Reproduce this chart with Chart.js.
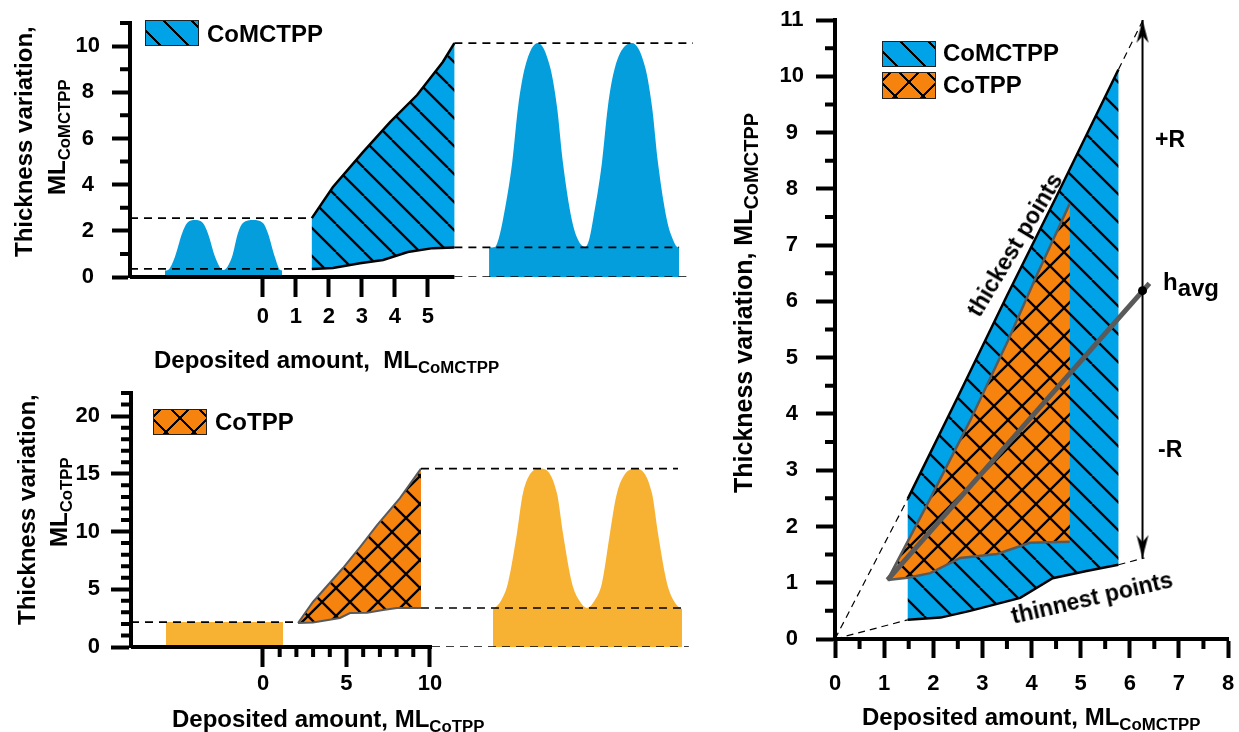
<!DOCTYPE html>
<html>
<head>
<meta charset="utf-8">
<title>Thickness variation vs deposited amount</title>
<script src="https://cdn.jsdelivr.net/npm/chart.js@4.4.1/dist/chart.umd.min.js"></script>
<style>
  body { margin: 0; background: #fff; }
  #fig { position: relative; width: 1239px; height: 732px; overflow: hidden; background: #fff;
         font-family: "Liberation Sans", Arial, sans-serif; font-weight: bold; color: #000; }
  #fig canvas { position: absolute; left: 0; top: 0; }
  .t { position: absolute; white-space: pre; line-height: 1; font-size: 24px; }
  .t sub { font-size: 0.7em; vertical-align: -0.32em; line-height: 0; }
  .up { transform-origin: 0 0; transform: rotate(-90deg); }
  .key { position: absolute; box-sizing: border-box; width: 54px; height: 26px; border: 1.5px solid #222; }
  .diag { background-color: #00a2e8;
          background-image: repeating-linear-gradient(45deg, transparent 0 8.9px, #000 8.9px 10.9px, transparent 10.9px 19.8px); }
  .xx { background-color: #f7830f;
        background-image: repeating-linear-gradient(45deg, transparent 0 8.9px, #000 8.9px 10.9px, transparent 10.9px 19.8px),
                          repeating-linear-gradient(-45deg, transparent 0 8.9px, #000 8.9px 10.9px, transparent 10.9px 19.8px); }
</style>
</head>
<body>
<div id="fig">
  <canvas id="cA" width="1239" height="732"></canvas>
  <canvas id="cB" width="1239" height="732"></canvas>
  <canvas id="cC" width="1239" height="732"></canvas>

  <!-- top-left panel -->
  <div class="t up" style="left:11.7px; top:257px;">Thickness variation,</div>
  <div class="t up" style="left:44.7px; top:195px;">ML<sub>CoMCTPP</sub></div>
  <div class="t" style="left:154px; top:347.7px;">Deposited amount,  ML<sub>CoMCTPP</sub></div>
  <div class="key diag" style="left:145px; top:20px;"></div>
  <div class="t" style="left:207px; top:21.7px;">CoMCTPP</div>

  <!-- bottom-left panel -->
  <div class="t up" style="left:14.7px; top:625px;">Thickness variation,</div>
  <div class="t up" style="left:46.7px; top:547px;">ML<sub>CoTPP</sub></div>
  <div class="t" style="left:172px; top:706.7px;">Deposited amount, ML<sub>CoTPP</sub></div>
  <div class="key xx" style="left:153px; top:409px;"></div>
  <div class="t" style="left:215px; top:409.7px;">CoTPP</div>

  <!-- right panel -->
  <div class="t up" style="left:730.8px; top:493px; font-size:25px;">Thickness variation, ML<sub style="font-size:0.8em;">CoMCTPP</sub></div>
  <div class="t" style="left:862px; top:704.7px;">Deposited amount, ML<sub>CoMCTPP</sub></div>
  <div class="key diag" style="left:882px; top:41px;"></div>
  <div class="t" style="left:943px; top:41.4px;">CoMCTPP</div>
  <div class="key xx" style="left:882px; top:72px; height:27px;"></div>
  <div class="t" style="left:943px; top:73px;">CoTPP</div>
  <div class="t" style="left:1155px; top:127.5px; font-size:23px;">+R</div>
  <div class="t" style="left:1158px; top:437.5px; font-size:23px;">-R</div>
  <div class="t" style="left:1163px; top:269.7px;">h<span style="position:relative; top:6px;">avg</span></div>
  <div class="t" style="left:1015px; top:245px; font-size:23px; transform:translate(-50%,-50%) rotate(-59deg);">thickest points</div>
  <div class="t" style="left:1092px; top:598px; font-size:23px; transform:translate(-50%,-50%) rotate(-13deg);">thinnest points</div>
</div>

<script>
// ---------- top-left panel: CoMCTPP ----------
const aXTicks = [0, 1, 2, 3, 4, 5];
const aYTicks = [0, 2, 4, 6, 8, 10];
const aYMinor = [1, 3, 5, 7, 9, 11];
const aThickX = [1.48, 2.12, 3.03, 3.85, 4.67, 5.45, 5.8];
const aThickY = [2.55, 3.9, 5.41, 6.71, 7.88, 9.31, 10.13];
const aThinX = [1.48, 2.12, 2.94, 3.64, 4.39, 5.15, 5.8];
const aThinY = [0.35, 0.39, 0.6, 0.74, 1.08, 1.25, 1.28];
// height profiles: small one left of the axis, large one right of the band
const aSmallX = [-2.97, -2.88, -2.67, -2.45, -2.3, -2.06, -1.82, -1.67, -1.45, -1.21, -0.94, -0.76, -0.61, -0.3, 0, 0.15, 0.36, 0.52, 0.58];
const aSmallY = [0.28, 0.3, 0.87, 1.9, 2.34, 2.47, 2.34, 1.9, 0.87, 0.3, 0.87, 1.9, 2.34, 2.47, 2.34, 1.9, 0.87, 0.3, 0.28];
const aBigX = [6.85, 7.03, 7.15, 7.27, 7.55, 7.73, 7.94, 8.33, 8.7, 8.91, 9.09, 9.36, 9.55, 9.76, 9.88, 10.0, 10.27, 10.45, 10.67, 11.18, 11.58, 11.79, 11.97, 12.24, 12.4, 12.55, 12.61];
const aBigY = [1.28, 1.3, 1.7, 2.47, 4.94, 7.36, 9.09, 10.13, 9.09, 7.36, 4.94, 2.47, 1.6, 1.3, 1.6, 2.47, 4.94, 7.36, 9.09, 10.13, 9.09, 7.36, 4.94, 2.47, 1.7, 1.3, 1.28];
const aLeftGuideY = [2.55, 0.35];
const aRightGuideY = [10.13, 1.28, 0];
const aRightGuideEnd = [13.03, 12.61, 12.85];

// ---------- bottom-left panel: CoTPP ----------
const bXTicks = [0, 5, 10];
const bXMinor = [1, 2, 3, 4, 6, 7, 8, 9];
const bYTicks = [0, 5, 10, 15, 20];
const bYMinor = [1, 2, 3, 4, 6, 7, 8, 9, 11, 12, 13, 14, 16, 17, 18, 19, 21, 22];
const bThickX = [2.1, 2.99, 4.79, 5.81, 6.83, 8.2, 9.46];
const bThickY = [2.08, 3.9, 6.84, 8.66, 10.56, 12.9, 15.45];
const bThinX = [2.1, 2.99, 4.61, 5.21, 6.23, 7.19, 8.02, 9.46];
const bThinY = [2.08, 2.12, 2.51, 2.94, 2.97, 3.2, 3.38, 3.38];
const bFlatX = [-5.81, 1.2];
const bFlatY = [2.16, 2.16];
const bBigX = [13.77, 13.89, 14.25, 14.67, 15.21, 15.57, 16.65, 17.6, 17.96, 18.5, 18.95, 19.4, 19.85, 20.3, 20.78, 21.2, 22.28, 23.29, 23.65, 24.19, 24.6, 24.97, 25.09];
const bBigY = [3.3, 3.38, 4.0, 5.54, 9.87, 13.33, 15.45, 13.33, 9.87, 5.54, 4.0, 3.38, 4.0, 5.54, 9.87, 13.33, 15.45, 13.33, 9.87, 5.54, 4.0, 3.38, 3.3];
const bLeftGuideY = [2.16];
const bRightGuideY = [15.45, 3.38, 0];
const bRightGuideStart = [9.46, 9.46, 10.12];
const bRightGuideEnd = [24.85, 25.1, 25.5];

// ---------- right panel: both, in ML of CoMCTPP ----------
const cXTicks = [0, 1, 2, 3, 4, 5, 6, 7, 8];
const cXMinor = [0.5, 1.5, 2.5, 3.5, 4.5, 5.5, 6.5, 7.5];
const cYTicks = [0, 1, 2, 3, 4, 5, 6, 7, 8, 9, 10, 11];
const cYMinor = [0.5, 1.5, 2.5, 3.5, 4.5, 5.5, 6.5, 7.5, 8.5, 9.5, 10.5];
const cThickX = [1.48, 2.5, 3.5, 4.5, 5.77];
const cThickY = [2.49, 4.3, 6.1, 7.85, 10.12];
const cThinX = [1.48, 2.15, 2.75, 3.77, 4.43, 5.12, 5.77];
const cThinY = [0.34, 0.38, 0.5, 0.73, 1.08, 1.21, 1.32];
const cTppUpX = [1.07, 1.94, 2.75, 3.52, 4.1, 4.78];
const cTppUpY = [1.05, 2.5, 3.88, 5.3, 6.45, 7.74];
const cTppLowX = [1.07, 1.48, 1.94, 2.55, 3.3, 3.97, 4.78];
const cTppLowY = [1.05, 1.09, 1.17, 1.44, 1.51, 1.71, 1.73];
const cAvgX = [1.07, 6.4];
const cAvgY = [1.05, 6.32];
const cAvgMark = [6.26, 6.19];
const cRangeX = 6.26;
const cRangeY = [11, 1.44];
const cThickGuideX = [0, 1.48, 5.77, 6.27];
const cThickGuideY = [0, 2.49, 10.12, 11];
const cThinGuideX = [0, 1.48, 5.77, 6.3];
const cThinGuideY = [0, 0.34, 1.32, 1.44];

// ---------- layout ----------
const FIG_W = 1239, FIG_H = 732, AXIS_W = 80, AXIS_H = 80;
const A_BOX = [130, 23, 695.29, 277], A_X = [-4.03, 13.1], A_Y = [0, 11];
const B_BOX = [131, 393, 690.5, 647], B_X = [-7.904, 25.6], B_Y = [0, 22];
const C_BOX = [835, 20, 1228, 639], C_X = [0, 8], C_Y = [0, 11];

const BLUE = '#00a2e8', BLUE_PEAK = '#059edd', ORANGE = '#f7830f', YELLOW = '#f7b234', GREY = '#5a5a5a';

Chart.defaults.font.family = '"Liberation Sans", Arial, sans-serif';
Chart.defaults.color = '#000';

function hatch(bg, cross) {
    const s = 28;
    const c = document.createElement('canvas');
    c.width = s; c.height = s;
    const g = c.getContext('2d');
    g.fillStyle = bg;
    g.fillRect(0, 0, s, s);
    g.strokeStyle = '#000';
    g.lineWidth = 2.3;
    g.beginPath();
    for (const k of [-1, 0, 1]) {
        g.moveTo(k * s, 0); g.lineTo(k * s + s, s);
        if (cross) { g.moveTo(k * s, s); g.lineTo(k * s + s, 0); }
    }
    g.stroke();
    return g.createPattern(c, 'repeat');
}

// barbed arrow head, tip at the centre of the image
function arrowHead() {
    const c = document.createElement('canvas');
    c.width = 14; c.height = 48;
    const g = c.getContext('2d');
    g.fillStyle = '#000';
    g.beginPath();
    g.moveTo(7, 24); g.lineTo(13, 47); g.lineTo(7, 40); g.lineTo(1, 47);
    g.closePath();
    g.fill();
    return c;
}

// minor ticks and partial x axis lines
const axisExtras = {
    id: 'axisExtras',
    afterDraw(chart, args, opts) {
        const { ctx, chartArea: a, scales: { x, y } } = chart;
        ctx.save();
        ctx.strokeStyle = '#000';
        ctx.lineWidth = 4;
        ctx.beginPath();
        for (const v of (opts.xMinor || [])) {
            const p = x.getPixelForValue(v);
            ctx.moveTo(p, a.bottom); ctx.lineTo(p, a.bottom + opts.minorLen);
        }
        for (const v of (opts.yMinor || [])) {
            const p = y.getPixelForValue(v);
            ctx.moveTo(a.left, p); ctx.lineTo(a.left - opts.minorLen, p);
        }
        if (opts.xLine) {
            ctx.moveTo(x.getPixelForValue(opts.xLine[0]), a.bottom);
            ctx.lineTo(x.getPixelForValue(opts.xLine[1]), a.bottom);
        }
        ctx.stroke();
        ctx.restore();
    }
};

function scale(kind, range, ticks, tickLen, pad, align, border) {
    return {
        type: 'linear', min: range[0], max: range[1],
        afterBuildTicks: s => { s.ticks = ticks.map(v => ({ value: v })); },
        afterFit: s => {
            if (kind === 'x') { s.height = AXIS_H; s.paddingLeft = 0; s.paddingRight = 0; }
            else { s.width = AXIS_W; s.paddingTop = 0; s.paddingBottom = 0; }
        },
        border: { display: border, width: 4, color: '#000' },
        grid: { drawOnChartArea: false, tickLength: tickLen, tickWidth: 4, tickColor: '#000' },
        ticks: { padding: pad, crossAlign: align, autoSkip: false, maxRotation: 0, color: '#000',
                 font: { size: 22, weight: 'bold' } }
    };
}

function panel(id, box, xs, ys, datasets, extras) {
    return new Chart(document.getElementById(id), {
        type: 'line',
        data: { datasets },
        options: {
            responsive: false, animation: false, devicePixelRatio: 1, events: [],
            layout: { padding: { left: box[0] - AXIS_W, top: box[1], right: FIG_W - box[2], bottom: FIG_H - box[3] - AXIS_H } },
            scales: { x: xs, y: ys },
            plugins: { legend: { display: false }, tooltip: { enabled: false }, axisExtras: extras }
        },
        plugins: [axisExtras]
    });
}

const pts = (xs, ys) => xs.map((x, i) => ({ x, y: ys[i] }));
const seg = (x0, y0, x1, y1) => [{ x: x0, y: y0 }, { x: x1, y: y1 }];
const mono = { cubicInterpolationMode: 'monotone' };

function area(data, fill, bg, order, extra) {
    return Object.assign({ data, fill, backgroundColor: bg, borderColor: 'rgba(0,0,0,0)', borderWidth: 0, pointRadius: 0, order }, extra);
}
function stroke(data, color, width, order, extra) {
    return Object.assign({ data, fill: false, borderColor: color, borderWidth: width, pointRadius: 0, order }, extra);
}
const dashed = (data, order) => stroke(data, '#000', 1.7, order, { borderDash: [8, 6] });
const thinDashed = (data, order) => stroke(data, '#000', 1.2, order, { borderDash: [7, 5] });

const blueHatch = hatch(BLUE, false);
const orangeHatch = hatch(ORANGE, true);

// ---- top-left ----
const aEnd = aThickX[aThickX.length - 1];
panel('cA', A_BOX,
    scale('x', A_X, aXTicks, 20, 7, 'near', false),
    scale('y', A_Y, aYTicks, 18, 12, 'center', true),
    [
        ...aRightGuideY.map((v, i) => dashed(seg(aEnd, v, aRightGuideEnd[i], v), 1)),
        ...aLeftGuideY.map(v => dashed(seg(A_X[0], v, aThickX[0], v), 1)),
        stroke(pts(aThickX, aThickY), '#000', 2.5, 2),
        stroke(pts(aThinX, aThinY), '#000', 2.5, 2),
        area(pts(aThinX, aThinY).concat(pts(aThickX, aThickY).reverse()), 'shape', blueHatch, 3),
        area(pts(aSmallX, aSmallY), 'origin', BLUE_PEAK, 3, mono),
        area(pts(aBigX, aBigY), 'origin', BLUE_PEAK, 3, mono)
    ],
    { yMinor: aYMinor, minorLen: 10, xLine: [A_X[0], aEnd] });

// ---- bottom-left ----
const bEnd = bThickX[bThickX.length - 1];
panel('cB', B_BOX,
    scale('x', B_X, bXTicks, 20, 4, 'near', false),
    scale('y', B_Y, bYTicks, 20, 11, 'near', true),
    [
        ...bRightGuideY.map((v, i) => dashed(seg(bRightGuideStart[i], v, bRightGuideEnd[i], v), 1)),
        ...bLeftGuideY.map(v => dashed(seg(B_X[0], v, bThickX[0], v), 1)),
        stroke(pts(bThickX, bThickY), GREY, 2, 2),
        stroke(pts(bThinX, bThinY), GREY, 2, 2),
        area(pts(bThinX, bThinY).concat(pts(bThickX, bThickY).reverse()), 'shape', orangeHatch, 3),
        area(pts(bFlatX, bFlatY), 'origin', YELLOW, 3),
        area(pts(bBigX, bBigY), 'origin', YELLOW, 3, mono)
    ],
    { xMinor: bXMinor, yMinor: bYMinor, minorLen: 10, xLine: [B_X[0], bRightGuideStart[2]] });

// ---- right ----
panel('cC', C_BOX,
    scale('x', C_X, cXTicks, 19, 13, 'near', true),
    scale('y', C_Y, cYTicks, 19, 12, 'center', true),
    [
        { data: [{ x: cAvgMark[0], y: cAvgMark[1] }], showLine: false, pointRadius: 4.5,
          pointBackgroundColor: '#000', pointBorderWidth: 0, order: 0 },
        { data: cRangeY.map(y => ({ x: cRangeX, y })), borderColor: '#000', borderWidth: 2, fill: false,
          pointStyle: arrowHead(), pointRadius: 6, pointRotation: [0, 180], clip: false, order: 1 },
        thinDashed(pts(cThickGuideX.slice(0, 2), cThickGuideY.slice(0, 2)), 2),
        thinDashed(pts(cThickGuideX.slice(2), cThickGuideY.slice(2)), 2),
        thinDashed(pts(cThinGuideX.slice(0, 2), cThinGuideY.slice(0, 2)), 2),
        thinDashed(pts(cThinGuideX.slice(2), cThinGuideY.slice(2)), 2),
        stroke(pts(cAvgX, cAvgY), GREY, 5, 3),
        stroke(pts(cTppUpX, cTppUpY), GREY, 2.5, 4),
        stroke(pts(cTppLowX, cTppLowY), GREY, 2.5, 4),
        area(pts(cTppLowX, cTppLowY).concat(pts(cTppUpX, cTppUpY).reverse()), 'shape', orangeHatch, 5),
        stroke(pts(cThickX, cThickY), '#000', 2.5, 6),
        stroke(pts(cThinX, cThinY), '#000', 2.5, 6),
        area(pts(cThinX, cThinY).concat(pts(cThickX, cThickY).reverse()), 'shape', blueHatch, 7)
    ],
    { xMinor: cXMinor, yMinor: cYMinor, minorLen: 10 });
</script>
</body>
</html>
